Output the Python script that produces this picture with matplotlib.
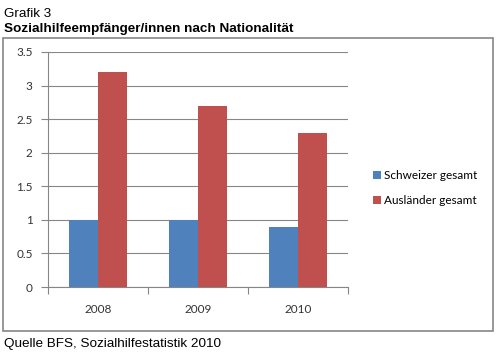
import matplotlib.pyplot as plt
import numpy as np
from matplotlib.patches import Rectangle

# Daten
jahre = ['2008', '2009', '2010']
schweizer = [1.0, 1.0, 0.9]
auslaender = [3.2, 2.7, 2.3]

blau = '#4F81BD'
rot = '#C0504D'

fig = plt.figure(figsize=(5, 3.57), dpi=100)
ax = fig.add_axes([48 / 500, 1 - 287 / 357, 300 / 500, 235 / 357])

x = np.arange(len(jahre))
breite = 0.29
ax.bar(x - breite / 2, schweizer, breite, color=blau, label='Schweizer gesamt', zorder=3)
ax.bar(x + breite / 2, auslaender, breite, color=rot, label='Ausländer gesamt', zorder=3)

ax.set_xlim(-0.5, 2.5)
ax.set_ylim(0, 3.5)
ax.set_yticks(np.arange(0, 3.51, 0.5))
ax.set_yticklabels(['0', '0.5', '1', '1.5', '2', '2.5', '3', '3.5'])
# Trennstriche zwischen den Jahren, Beschriftung in der Mitte
ax.set_xticks([-0.5, 0.5, 1.5, 2.5], minor=False)
ax.set_xticklabels([])
ax.set_xticks(x, minor=True)
ax.set_xticklabels(jahre, minor=True)
ax.tick_params(axis='x', which='minor', length=0, pad=12)
ax.tick_params(axis='x', which='major', length=5, color='#868686')
ax.tick_params(axis='y', length=5, color='#868686', pad=6)
for lbl in ax.get_yticklabels() + ax.get_xticklabels(minor=True):
    lbl.set_fontfamily('Lato')
    lbl.set_fontsize(8.5)
    lbl.set_color('#333333')

ax.grid(axis='y', color='#868686', linewidth=0.8, zorder=0)
for s in ['top', 'right']:
    ax.spines[s].set_visible(False)
ax.spines['left'].set_color('#868686')
ax.spines['bottom'].set_color('#868686')

leg = fig.legend(loc='center left', bbox_to_anchor=(362 / 500, 1 - 188 / 357),
                 frameon=False, prop={'family': 'Lato', 'size': 8.5},
                 handlelength=0.7, handleheight=0.7, handletextpad=0.3,
                 labelspacing=1.2)

# Rahmen um die Grafik
fig.patches.append(Rectangle((3 / 500, 1 - 331 / 357), 490 / 500, 293 / 357,
                             transform=fig.transFigure, fill=False,
                             edgecolor='#868686', linewidth=1.2))

fig.text(4 / 500, 1 - 17 / 357, 'Grafik 3', family='Liberation Sans', fontsize=9.7)
fig.text(4 / 500, 1 - 32 / 357, 'Sozialhilfeempfänger/innen nach Nationalität',
         family='Liberation Sans', fontsize=9.7, fontweight='bold')
fig.text(4 / 500, 1 - 347 / 357, 'Quelle BFS, Sozialhilfestatistik 2010',
         family='Liberation Sans', fontsize=9.7)

fig.savefig('out.png', dpi=100)
